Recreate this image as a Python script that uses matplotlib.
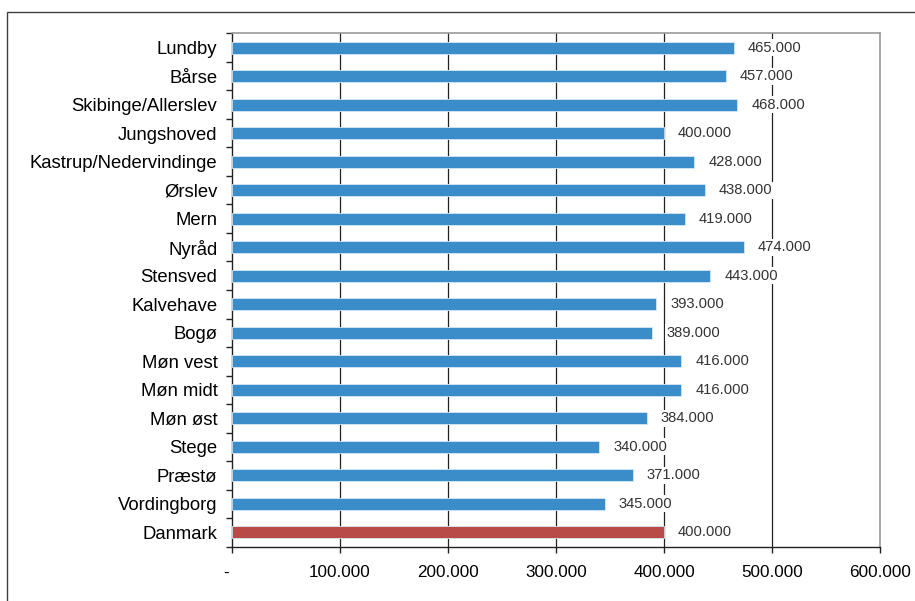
import matplotlib
matplotlib.use("Agg")
import matplotlib.pyplot as plt
from matplotlib.patches import Rectangle
from matplotlib.ticker import FixedLocator, FuncFormatter

plt.rcParams['font.family'] = ['Liberation Sans', 'DejaVu Sans']

areas = ["Lundby", "Bårse", "Skibinge/Allerslev", "Jungshoved",
         "Kastrup/Nedervindinge", "Ørslev", "Mern", "Nyråd", "Stensved",
         "Kalvehave", "Bogø", "Møn vest", "Møn midt", "Møn øst", "Stege",
         "Præstø", "Vordingborg", "Danmark"]
values = [465000, 457000, 468000, 400000, 428000, 438000, 419000, 474000,
          443000, 393000, 389000, 416000, 416000, 384000, 340000, 371000,
          345000, 400000]
x_ticks = [0, 100000, 200000, 300000, 400000, 500000, 600000]

blue = "#3b8dca"
red = "#b84a47"
colors = [red if a == "Danmark" else blue for a in areas]


def thousands(v):
    if v == 0:
        return "-  "
    return f"{v:,.0f}".replace(",", ".")


fig = plt.figure(figsize=(9.15, 6.01), dpi=100)
fig.patches.append(Rectangle((7 / 915, -0.2), 1.2, 1.2 - 12 / 601 + 0.0,
                             transform=fig.transFigure, fill=False,
                             edgecolor="#404040", linewidth=1.0))

ax = fig.add_axes([232 / 915, 1 - 546.7 / 601, (880 - 232) / 915, (546.7 - 33.3) / 601])

n = len(areas)
ypos = list(range(n))
ax.barh(ypos, values, height=0.42, color=colors, edgecolor="#d6e8f5",
        linewidth=0.6, zorder=3)

ax.set_xlim(0, 600000)
ax.set_ylim(n - 0.5, -0.5)

# vertical gridlines
for t in x_ticks[1:-1]:
    ax.axvline(t, color="#222222", linewidth=0.9, zorder=1)

ax.xaxis.set_major_locator(FixedLocator(x_ticks))
ax.xaxis.set_major_formatter(FuncFormatter(lambda v, p: thousands(v)))
ax.set_yticks(ypos)
ax.set_yticklabels(areas)
ax.yaxis.set_minor_locator(FixedLocator([i - 0.5 for i in range(n + 1)]))
ax.tick_params(axis="y", which="major", length=0, pad=10.5, labelsize=13.3)
ax.tick_params(axis="y", which="minor", length=4, width=1, color="#222222")
ax.tick_params(axis="x", length=4, width=1, color="#222222", pad=9,
               labelsize=12.3)

for s in ("top", "right"):
    ax.spines[s].set_color("#999999")
    ax.spines[s].set_linewidth(1.2)
for s in ("left", "bottom"):
    ax.spines[s].set_color("#222222")
    ax.spines[s].set_linewidth(1.0)

for y, v in zip(ypos, values):
    ax.annotate(thousands(v), xy=(v, y), xytext=(10, 0),
                textcoords="offset points", va="center", ha="left",
                fontsize=10.6, color="#333333", zorder=4,
                bbox=dict(boxstyle="square,pad=0.1", facecolor="white",
                          edgecolor="none"))

fig.savefig("out.png", dpi=100)
